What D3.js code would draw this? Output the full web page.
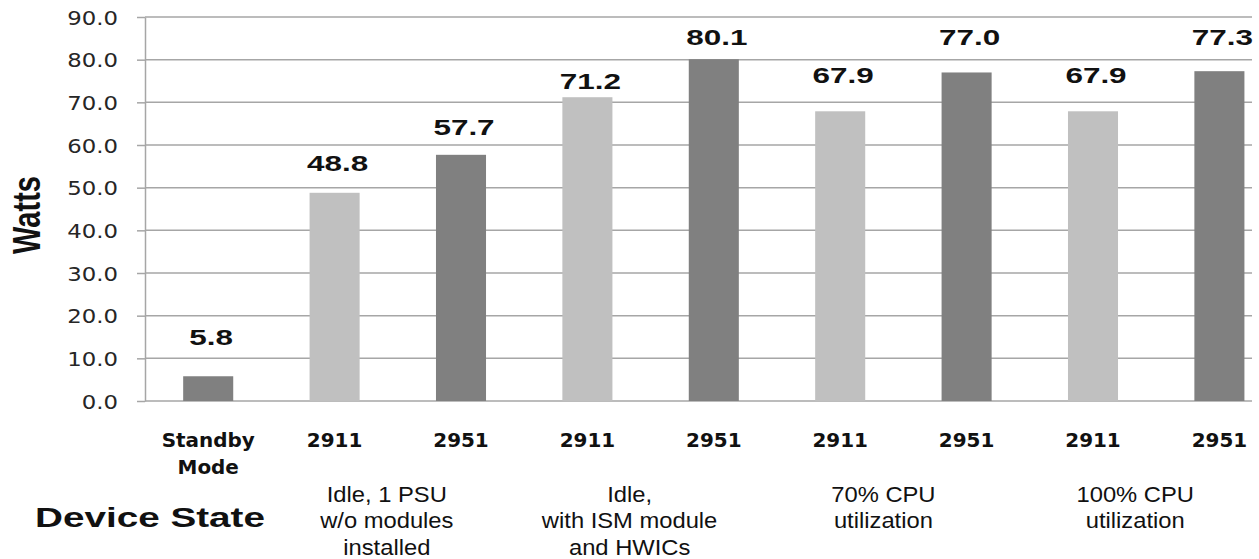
<!DOCTYPE html>
<html>
<head>
<meta charset="utf-8">
<script src="https://cdn.jsdelivr.net/npm/d3@7"></script>
<style>
  html, body { margin: 0; padding: 0; background: #fff; }
  svg { display: block; }
</style>
</head>
<body>
<svg id="chart" width="1259" height="559"></svg>
<script>
// ---- data ----
const categories = ["Standby\nMode", "2911", "2951", "2911", "2951", "2911", "2951", "2911", "2951"];
const models     = ["standby", "2911", "2951", "2911", "2951", "2911", "2951", "2911", "2951"];
const watts      = [5.8, 48.8, 57.7, 71.2, 80.1, 67.9, 77.0, 67.9, 77.3];
const yTicks     = [0, 10, 20, 30, 40, 50, 60, 70, 80, 90];
const groupNames = [
  ["Idle, 1 PSU", "w/o modules", "installed"],
  ["Idle,", "with ISM module", "and HWICs"],
  ["70% CPU", "utilization"],
  ["100% CPU", "utilization"]
];
const groupFirstIndex = [1, 3, 5, 7];
const yTitle = "Watts";
const xTitle = "Device State";

// ---- layout ----
const axisX = 145, plotTop = 17, plotBottom = 401, gridRight = 1252;
const step = 126.4;
const labelBaselines = [345, 171, 135, 89, 45, 83, 45, 83, 45];
const groupShift = [-11, -21, -20, -21];
const colour = { standby: "#808080", "2911": "#c0c0c0", "2951": "#808080" };

const svg = d3.select("#chart");
svg.append("rect").attr("width", 1259).attr("height", 559).attr("fill", "#fff");

const x = d3.scaleBand()
  .domain(d3.range(categories.length))
  .range([axisX, axisX + step * categories.length])
  .paddingInner(0.604)
  .paddingOuter(0.302);

const y = d3.scaleLinear().domain([0, 90]).range([plotBottom, plotTop]);

// horizontal gridlines
svg.append("g").selectAll("line")
  .data(yTicks)
  .join("line")
  .attr("x1", axisX).attr("x2", gridRight)
  .attr("y1", d => y(d)).attr("y2", d => y(d))
  .attr("stroke", "#a6a6a6").attr("stroke-width", 1.5);

// y axis with tick labels
const yAxis = svg.append("g")
  .attr("transform", `translate(${axisX},0)`)
  .call(d3.axisLeft(y).tickValues(yTicks).tickSize(8).tickSizeOuter(0).tickFormat(d3.format(".1f")));
yAxis.select(".domain").attr("stroke", "#a6a6a6").attr("stroke-width", 1.5);
yAxis.selectAll(".tick line").attr("stroke", "#a6a6a6").attr("stroke-width", 1.5);
yAxis.selectAll(".tick text")
  .attr("x", 0).attr("dy", null)
  .attr("transform", "translate(-27,7) scale(1.2,1)")
  .attr("text-anchor", "end")
  .attr("fill", "#262626")
  .style("font-family", "'DejaVu Sans', sans-serif")
  .style("font-size", "19px");

// bars
svg.append("g").selectAll("rect")
  .data(watts)
  .join("rect")
  .attr("x", (d, i) => x(i))
  .attr("width", x.bandwidth())
  .attr("y", d => y(d))
  .attr("height", d => y(0) - y(d))
  .attr("fill", (d, i) => colour[models[i]]);

// value labels
svg.append("g").selectAll("text")
  .data(watts)
  .join("text")
  .attr("transform", (d, i) => `translate(${x(i) + x.bandwidth() / 2 + 3},${labelBaselines[i]}) scale(1.43,1)`)
  .attr("text-anchor", "middle")
  .style("font-family", "'Liberation Sans', Arial, sans-serif")
  .style("font-weight", "bold")
  .style("font-size", "22px")
  .attr("fill", "#111")
  .text(d => d.toFixed(1));

// category labels
const cat = svg.append("g").selectAll("text")
  .data(categories)
  .join("text")
  .attr("transform", (d, i) => `translate(${x(i) + x.bandwidth() / 2},447) scale(1.05,1)`)
  .attr("text-anchor", "middle")
  .style("font-family", "'DejaVu Sans', sans-serif")
  .style("font-weight", "bold")
  .style("font-size", "19px")
  .attr("fill", "#111");
cat.selectAll("tspan")
  .data(d => d.split("\n"))
  .join("tspan")
  .attr("x", 0)
  .attr("y", (d, j) => j * 27)
  .text(d => d);

// group descriptions under each pair of bars
const grp = svg.append("g").selectAll("text")
  .data(groupNames)
  .join("text")
  .attr("transform", (d, i) => {
    const a = groupFirstIndex[i];
    const cx = (x(a) + x(a + 1) + x.bandwidth()) / 2 + groupShift[i];
    return `translate(${cx},502) scale(1.08,1)`;
  })
  .attr("text-anchor", "middle")
  .style("font-family", "'Liberation Sans', Arial, sans-serif")
  .style("font-size", "22px")
  .attr("fill", "#111");
grp.selectAll("tspan")
  .data(d => d)
  .join("tspan")
  .attr("x", 0)
  .attr("y", (d, j) => j * 26.3)
  .text(d => d);

// axis titles
svg.append("text")
  .attr("transform", "translate(40,215) scale(1.32,1) rotate(-90)")
  .attr("text-anchor", "middle")
  .style("font-family", "'Liberation Sans', Arial, sans-serif")
  .style("font-weight", "bold")
  .style("font-size", "29px")
  .attr("fill", "#111")
  .text(yTitle);

svg.append("text")
  .attr("x", 35).attr("y", 527)
  .attr("textLength", 230)
  .attr("lengthAdjust", "spacingAndGlyphs")
  .style("font-family", "'Liberation Sans', Arial, sans-serif")
  .style("font-weight", "bold")
  .style("font-size", "28px")
  .attr("fill", "#111")
  .text(xTitle);
</script>
</body>
</html>
